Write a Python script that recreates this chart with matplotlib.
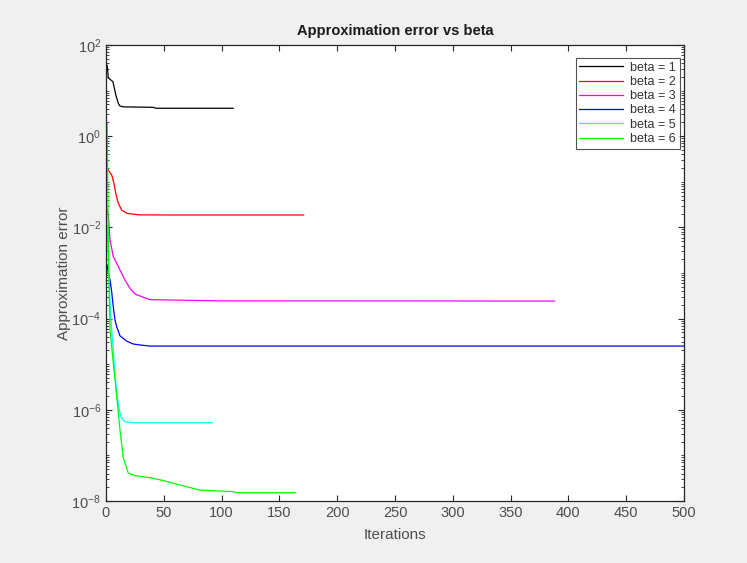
import matplotlib
matplotlib.use('Agg')
import matplotlib.pyplot as plt
from matplotlib.ticker import LogLocator, FixedLocator, MultipleLocator, NullFormatter

plt.rcParams['font.family'] = ['Liberation Sans', 'DejaVu Sans']

# approximation error per iteration, one run per beta
it_b1 = [1, 2, 6, 8.5, 10.6, 12, 15, 41, 43, 110]
err_b1 = [36, 19, 15.7, 8, 5.3, 4.6, 4.4, 4.3, 4.1, 4.1]

it_b2 = [1, 2, 5, 7, 8.5, 10.6, 13.6, 18, 29, 60, 171]
err_b2 = [0.19, 0.18, 0.14, 0.09, 0.055, 0.034, 0.024, 0.0204, 0.0188, 0.0187, 0.0187]

it_b3 = [1, 2, 3.5, 6.3, 9.3, 12.1, 16.4, 20.8, 25.1, 29.4, 38, 100, 388]
err_b3 = [0.025, 0.0187, 0.0053, 0.00228, 0.00163, 0.00116, 7.0e-4, 4.6e-4, 3.46e-4, 3.13e-4, 2.6e-4, 2.45e-4, 2.43e-4]

it_b4 = [1, 2, 3.5, 4.9, 6.3, 7.8, 9.3, 12.1, 17.9, 23.6, 29.4, 38, 500]
err_b4 = [1.5e-3, 9.8e-4, 7.0e-4, 3.9e-4, 1.82e-4, 9.3e-5, 6.6e-5, 4.2e-5, 3.2e-5, 2.77e-5, 2.64e-5, 2.5e-5, 2.5e-5]

it_b5 = [1, 2, 3, 4, 4.9, 6.3, 7.8, 9.8, 11.5, 13.6, 16.4, 23.6, 92]
err_b5 = [0.011, 1.9e-3, 4.3e-4, 1.2e-4, 5.6e-5, 2.05e-5, 5.3e-6, 1.94e-6, 9.9e-7, 6.5e-7, 5.5e-7, 5.2e-7, 5.2e-7]

it_b6 = [1, 2, 3.5, 6.3, 9.3, 12.1, 15, 19.3, 25.1, 38, 50, 64, 81, 110, 113, 164]
err_b6 = [2.0, 3.2e-3, 5.6e-5, 1.06e-5, 1.94e-6, 3.6e-7, 8.8e-8, 4.1e-8, 3.6e-8, 3.25e-8, 2.8e-8, 2.24e-8, 1.74e-8, 1.6e-8, 1.52e-8, 1.52e-8]

runs = [(it_b1, err_b1), (it_b2, err_b2), (it_b3, err_b3),
        (it_b4, err_b4), (it_b5, err_b5), (it_b6, err_b6)]
labels = ['beta = 1', 'beta = 2', 'beta = 3', 'beta = 4', 'beta = 5', 'beta = 6']
colors = ['#000000', '#ff0000', '#ff00ff', '#0000ff', '#00ffff', '#00ff00']

fig = plt.figure(figsize=(7.47, 5.63), dpi=100, facecolor='#f0f0f0')
ax = fig.add_axes([106 / 747, 1 - 501 / 563, 578 / 747, 456 / 563])

for (x, y), lab, c in zip(runs, labels, colors):
    ax.semilogy(x, y, color=c, lw=0.9, label=lab)

ax.set_xlim(0, 500)
ax.set_ylim(1e-8, 1e2)
ax.xaxis.set_major_locator(MultipleLocator(50))
ax.yaxis.set_major_locator(FixedLocator([1e-8, 1e-6, 1e-4, 1e-2, 1e0, 1e2]))
ax.yaxis.set_minor_locator(LogLocator(base=10, subs=range(1, 10), numticks=30))
ax.yaxis.set_minor_formatter(NullFormatter())

axis_col = '#262626'
for s in ax.spines.values():
    s.set_color(axis_col)
    s.set_linewidth(0.9)
ax.tick_params(which='both', direction='in', top=True, right=True,
               colors=axis_col, labelcolor='#4d4d4d', labelsize=10.5)
ax.tick_params(which='major', length=4)
ax.tick_params(which='minor', length=2)

ax.set_title('Approximation error vs beta', fontsize=10.5, fontweight='bold', color='#1a1a1a', pad=7)
ax.set_xlabel('Iterations', fontsize=11, color='#4d4d4d', labelpad=6)
ax.set_ylabel('Approximation error', fontsize=11, color='#4d4d4d', labelpad=0)

leg = ax.legend(loc='upper right', bbox_to_anchor=(680 / 747, 1 - 58 / 563),
                bbox_transform=fig.transFigure, fontsize=9, frameon=True,
                fancybox=False, handlelength=3.5, handletextpad=0.6,
                borderpad=0.3, labelspacing=0.18, borderaxespad=0)
leg.get_frame().set_edgecolor(axis_col)
leg.get_frame().set_linewidth(0.8)
for t in leg.get_texts():
    t.set_color('#333333')

fig.savefig('out.png', dpi=100, facecolor=fig.get_facecolor())
